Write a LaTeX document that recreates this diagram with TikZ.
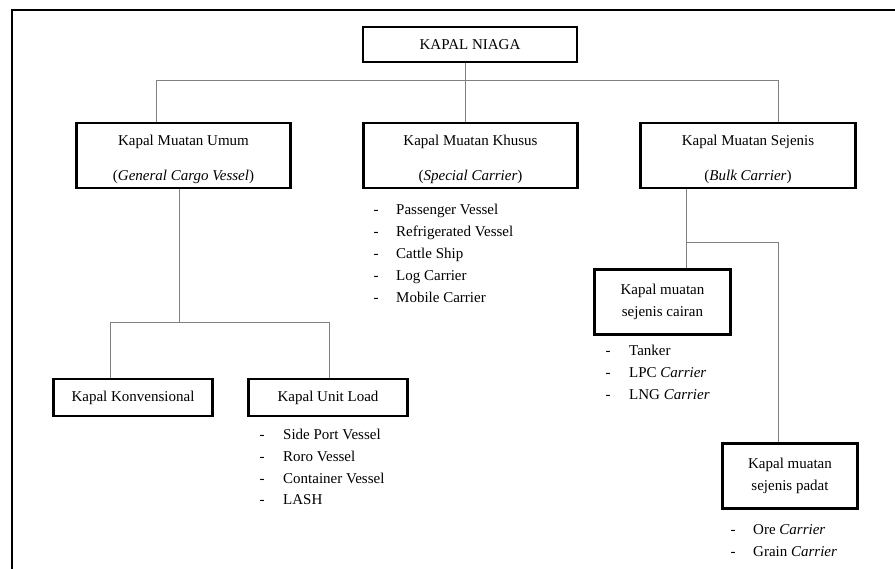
\documentclass[tikz,border=0pt]{standalone}
\usepackage{fontspec}
\setmainfont{Liberation Serif}
\usepackage{array}

\begin{document}
\begin{tikzpicture}[x=1pt, y=-1pt,
    kotak/.style = {draw, line width=2.6pt, align=center, inner sep=0pt, font=\fontsize{15}{22}\selectfont},
    garis/.style = {draw=black!50, line width=0.8pt},
    daftar/.style = {anchor=base west, inner sep=0pt, font=\fontsize{15}{22}\selectfont}]
    \useasboundingbox (0,0) rectangle (895,569);
    \draw[line width=1.8pt] (895,10) -- (12,10) -- (12,569);

    \node[kotak, minimum width=214, minimum height=35] at (470,44.5) (niaga) {KAPAL NIAGA};
    \node[kotak, minimum width=214, minimum height=65] at (183.5,155.5) (umum) {\rule{0pt}{18pt}Kapal Muatan Umum\\[13pt](\textit{General Cargo Vessel})};
    \node[kotak, minimum width=214, minimum height=65] at (470.5,155.5) (khusus) {\rule{0pt}{18pt}Kapal Muatan Khusus\\[13pt](\textit{Special Carrier})};
    \node[kotak, minimum width=215, minimum height=65] at (748,155.5) (sejenis) {\rule{0pt}{18pt}Kapal Muatan Sejenis\\[13pt](\textit{Bulk Carrier})};
    \node[kotak, minimum width=159, minimum height=37] at (133,397.5) (konv) {Kapal Konvensional};
    \node[kotak, minimum width=159, minimum height=37] at (328,397.5) (unit) {Kapal Unit Load};
    \node[kotak, minimum width=136, minimum height=65] at (662.5,302) (cairan) {Kapal muatan\\sejenis cairan};
    \node[kotak, minimum width=135, minimum height=65] at (790,476) (padat) {Kapal muatan\\sejenis padat};

    % daftar jenis kapal
    \node[daftar] at (373.5,215) (lkhusus) {\begin{tabular}[t]{@{}p{22.5pt}@{}l@{}}
        - & Passenger Vessel\\ - & Refrigerated Vessel\\ - & Cattle Ship\\ - & Log Carrier\\ - & Mobile Carrier
        \end{tabular}};
    \node[daftar] at (259.5,439) (lunit) {\begin{tabular}[t]{@{}p{23.5pt}@{}l@{}}
        - & Side Port Vessel\\ - & Roro Vessel\\ - & Container Vessel\\ - & LASH
        \end{tabular}};
    \node[daftar] at (605.5,356) (lcairan) {\begin{tabular}[t]{@{}p{23.5pt}@{}l@{}}
        - & Tanker\\ - & LPC \textit{Carrier}\\ - & LNG \textit{Carrier}
        \end{tabular}};
    \node[daftar] at (730.5,534) (lpadat) {\begin{tabular}[t]{@{}p{22.5pt}@{}l@{}}
        - & Ore \textit{Carrier}\\ - & Grain \textit{Carrier}
        \end{tabular}};

    \coordinate (a0) at (156,80);
    \coordinate (a1) at (465,80);
    \coordinate (a2) at (778,80);
    \coordinate (b0) at (110,322);
    \coordinate (b1) at (179,322);
    \coordinate (b2) at (329,322);
    \coordinate (d1) at (686,242);
    \coordinate (d2) at (778,242);
    \draw[garis] (niaga.south -| a1) -- (a1);
    \draw[garis] (umum.north -| a0) -- (a0) -- (a2) -- (sejenis.north -| a2);
    \draw[garis] (a1) -- (khusus.north -| a1);
    \draw[garis] (umum.south -| b1) -- (b1);
    \draw[garis] (konv.north -| b0) -- (b0) -- (b2) -- (unit.north -| b2);
    \draw[garis] (sejenis.south -| d1) -- (cairan.north -| d1);
    \draw[garis] (d1) -- (d2) -- (padat.north -| d2);
\end{tikzpicture}
\end{document}
